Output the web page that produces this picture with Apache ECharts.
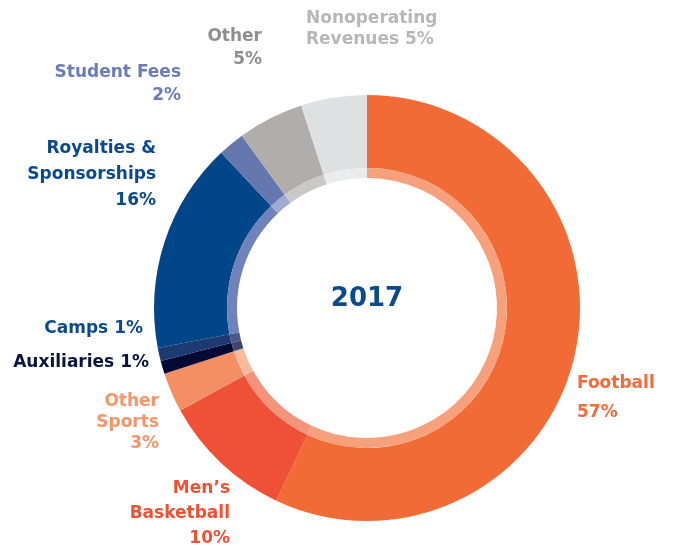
<!DOCTYPE html>
<html>
<head>
<meta charset="utf-8">
<script src="https://cdn.jsdelivr.net/npm/echarts@6/dist/echarts.min.js"></script>
<style>
html,body{margin:0;padding:0;background:#fff;}
#chart{width:676px;height:548px;}
</style>
</head>
<body>
<div id="chart"></div>
<script>
// Data
var categories = ['Football', 'Men\u2019s\nBasketball', 'Other\nSports', 'Auxiliaries', 'Camps', 'Royalties &\nSponsorships', 'Student Fees', 'Other', 'Nonoperating\nRevenues'];
var values = [57, 10, 3, 1, 1, 16, 2, 5, 5];
var labelSep = ['\n', '\n', '\n', ' ', ' ', '\n', '\n', '\n', ' '];
var centerText = '2017';

// Styles
var sliceColors = ['#F26B37', '#EF5136', '#F48F64', '#050A35', '#1D3A72', '#02468A', '#6577AF', '#B1ADAA', '#DFE0E2'];
var ringColors = ['#F7A07C', '#F4927A', '#F9BA9C', '#3E4670', '#4A5A88', '#7082BA', '#A0A9D0', '#CAC8C6', '#EAEBEC'];
var textColors = ['#F26B38', '#EE5134', '#F5956A', '#0B1340', '#0B4A8C', '#0A4A8C', '#6A7DB8', '#8E8E8E', '#B7B7B7'];
var labelPos = [
  {x: 577, y: 398, align: 'left', lh: 29},
  {x: 230, y: 514, align: 'right', lh: 25},
  {x: 159, y: 423, align: 'right', lh: 21},
  {x: 149, y: 363, align: 'right', lh: 20},
  {x: 143, y: 329, align: 'right', lh: 20},
  {x: 156, y: 175, align: 'right', lh: 26},
  {x: 181, y: 84, align: 'right', lh: 22.5},
  {x: 262, y: 48, align: 'right', lh: 22.5},
  {x: 306, y: 29, align: 'left', lh: 21}
];

var center = [367, 308];

var outerData = categories.map(function (c, i) {
  return {
    name: c, value: values[i],
    itemStyle: {color: sliceColors[i]},
    label: {color: textColors[i], lineHeight: labelPos[i].lh, align: labelPos[i].align}
  };
});
var innerData = categories.map(function (c, i) {
  return {name: c, value: values[i], itemStyle: {color: ringColors[i]}};
});

var chart = echarts.init(document.getElementById('chart'), null, {renderer: 'canvas'});
chart.setOption({
  animation: false,
  backgroundColor: '#ffffff',
  series: [
    {
      type: 'pie',
      center: center,
      radius: [140, 213],
      startAngle: 90,
      clockwise: true,
      silent: true,
      avoidLabelOverlap: false,
      itemStyle: {borderWidth: 0},
      emphasis: {disabled: true},
      labelLine: {show: false},
      label: {
        show: true,
        position: 'outside',
        overflow: 'none',
        fontFamily: 'DejaVu Sans',
        fontWeight: 'bold',
        fontSize: 17,
        formatter: function (p) {
          return p.name + labelSep[p.dataIndex] + p.value + '%';
        }
      },
      labelLayout: function (params) {
        var lp = labelPos[params.dataIndex];
        return {x: lp.x, y: lp.y, align: lp.align, verticalAlign: 'middle', hideOverlap: false, moveOverlap: false};
      },
      data: outerData
    },
    {
      type: 'pie',
      center: center,
      radius: [130, 140],
      startAngle: 90,
      clockwise: true,
      silent: true,
      itemStyle: {borderWidth: 0},
      emphasis: {disabled: true},
      label: {show: false},
      labelLine: {show: false},
      data: innerData
    }
  ],
  graphic: [{
    type: 'text',
    x: 367,
    y: 299,
    style: {
      text: centerText,
      font: 'bold 26px "DejaVu Sans"',
      fill: '#0B4A8E',
      textAlign: 'center',
      textVerticalAlign: 'middle'
    }
  }]
});
</script>
</body>
</html>
